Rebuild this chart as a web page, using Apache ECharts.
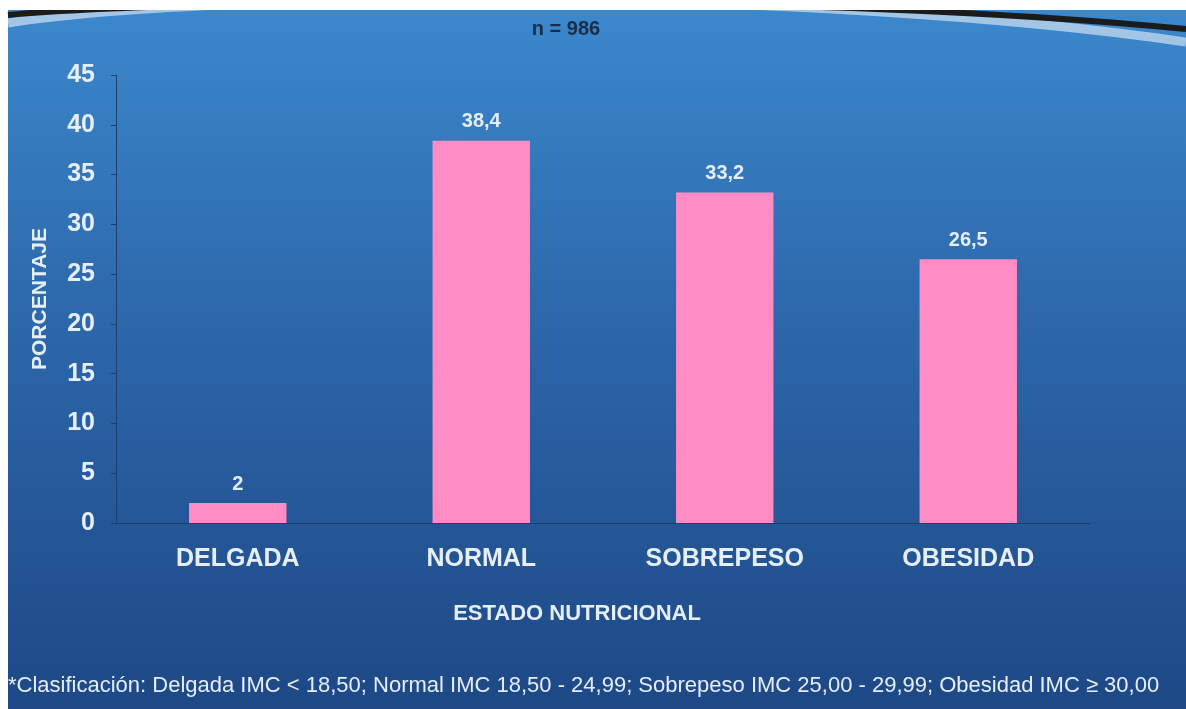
<!DOCTYPE html>
<html>
<head>
<meta charset="utf-8">
<script src="https://cdn.jsdelivr.net/npm/echarts@6/dist/echarts.min.js"></script>
<style>
  html, body { margin: 0; padding: 0; background: #fff; }
  #chart { width: 1186px; height: 709px; }
</style>
</head>
<body>
<div id="chart"></div>
<script>
// datos del grafico
var categorias = ['DELGADA', 'NORMAL', 'SOBREPESO', 'OBESIDAD'];
var porcentajes = [2, 38.4, 33.2, 26.5];
var etiquetas = ['2', '38,4', '33,2', '26,5'];
var ejeY = { min: 0, max: 45, interval: 5 };

var nota = '*Clasificación: Delgada IMC < 18,50; Normal IMC 18,50 - 24,99; Sobrepeso IMC 25,00 - 29,99; Obesidad IMC ≥ 30,00';

var myChart = echarts.init(document.getElementById('chart'));

var fuente = '"Liberation Sans", Arial, sans-serif';
var blanco = '#e6eef8';

var option = {
    backgroundColor: '#ffffff',
    textStyle: { fontFamily: fuente },
    graphic: [
        {   // panel azul con degradado
            type: 'rect',
            z: -10,
            shape: { x: 8, y: 10, width: 1178, height: 699 },
            style: {
                fill: new echarts.graphic.LinearGradient(0, 0, 0, 1, [
                    { offset: 0, color: '#3b88cc' },
                    { offset: 0.45, color: '#2c67aa' },
                    { offset: 1, color: '#1e4886' }
                ])
            }
        },
        {   // brillo bajo la curva
            type: 'bezierCurve',
            z: -8,
            shape: { x1: 8, y1: 23, x2: 1186, y2: 42, cpx1: 200, cpy1: -8, cpx2: 800, cpy2: -14 },
            style: { fill: null, stroke: 'rgba(220,232,245,0.65)', lineWidth: 9 }
        },
        {   // linea oscura de la curva
            type: 'bezierCurve',
            z: -7,
            shape: { x1: 8, y1: 15, x2: 1186, y2: 29, cpx1: 200, cpy1: -2, cpx2: 800, cpy2: -8 },
            style: { fill: null, stroke: '#1b1b1b', lineWidth: 6 }
        },
        {   // franja blanca superior
            type: 'rect',
            z: -6,
            shape: { x: 0, y: 0, width: 1186, height: 10 },
            style: { fill: '#ffffff' }
        },
        {
            type: 'text',
            x: 566,
            y: 29,
            style: {
                text: 'n = 986', fill: '#1c2d48', font: 'bold 20px ' + fuente,
                align: 'center', verticalAlign: 'middle'
            }
        },
        {
            type: 'text',
            x: 8,
            y: 686,
            style: {
                text: nota, fill: blanco, font: '22px ' + fuente,
                verticalAlign: 'middle'
            }
        }
    ],
    grid: {
        left: 116,
        right: 96,
        top: 75,
        bottom: 186,
        containLabel: false
    },
    xAxis: {
        type: 'category',
        data: categorias,
        name: 'ESTADO NUTRICIONAL',
        nameLocation: 'middle',
        nameGap: 80,
        nameTextStyle: {
            color: blanco, fontWeight: 'bold', fontSize: 22, padding: [0, 52, 0, 0]
        },
        axisLine: { lineStyle: { color: '#1c3f70', width: 1 } },
        axisTick: { show: false },
        axisLabel: {
            color: blanco, fontWeight: 'bold', fontSize: 25, margin: 24
        }
    },
    yAxis: {
        type: 'value',
        min: ejeY.min,
        max: ejeY.max,
        interval: ejeY.interval,
        name: 'PORCENTAJE',
        nameLocation: 'middle',
        nameRotate: 90,
        nameGap: 65,
        nameTextStyle: { color: blanco, fontWeight: 'bold', fontSize: 21 },
        axisLine: { show: true, lineStyle: { color: '#1c3f70', width: 1 } },
        axisTick: { show: true, length: 5, lineStyle: { color: '#1c3f70' } },
        splitLine: { show: false },
        axisLabel: { color: blanco, fontWeight: 'bold', fontSize: 25, margin: 21 }
    },
    series: [
        {
            type: 'bar',
            data: porcentajes,
            barWidth: '40%',
            itemStyle: { color: '#ff8cc4' },
            label: {
                show: true,
                position: 'top',
                distance: 9,
                color: blanco,
                fontWeight: 'bold',
                fontSize: 20,
                formatter: function (p) { return etiquetas[p.dataIndex]; }
            }
        }
    ]
};

myChart.setOption(option);
</script>
</body>
</html>
